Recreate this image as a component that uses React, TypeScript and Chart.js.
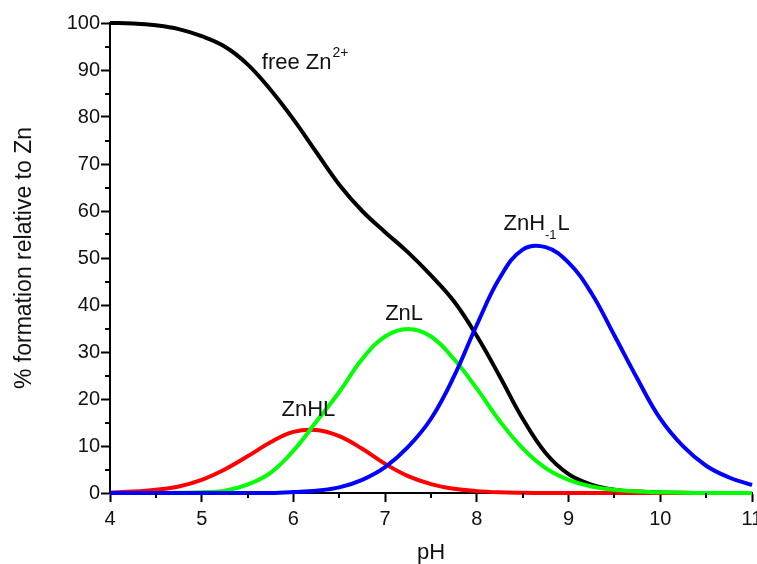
import React, { useEffect, useRef } from 'react';
import { Chart, registerables } from 'chart.js';

Chart.register(...registerables);

const FONT = '"Liberation Sans", Arial, Helvetica, sans-serif';

// pH grid
const phValues = [
  4, 4.25, 4.5, 4.75, 5, 5.25, 5.5, 5.75, 6, 6.25, 6.5, 6.75, 7, 7.25, 7.5,
  7.75, 8, 8.25, 8.5, 8.75, 9, 9.25, 9.5, 9.75, 10, 10.25, 10.5, 10.75, 11,
];

// free Zn2+ (black)
const freeZn = [
  100, 99.9, 99.5, 98.7, 97.2, 95, 91.2, 85.8, 79.5, 72.5, 65.6, 60.0, 55.5, 51.2, 46.3,
  40.8, 33.4, 24.8, 15.8, 8.5, 4.0, 1.8, 0.7, 0.3, 0.1, 0.05, 0, 0, 0,
];

// ZnHL (red)
const znHL = [
  0.1, 0.3, 0.7, 1.4, 2.8, 5.0, 7.8, 10.8, 13.0, 13.4, 12.1, 9.4, 6.2, 3.6, 1.9,
  0.9, 0.4, 0.15, 0.05, 0, 0, 0, 0, 0, 0, 0, 0, 0, 0,
];

// ZnL (green)
const znL = [
  0, 0, 0, 0.05, 0.15, 0.5, 1.8, 4.3, 9.0, 15.2, 21.5, 28.5, 33.3, 34.9, 33.3,
  28.5, 22.2, 15.3, 9.5, 5.3, 2.8, 1.4, 0.7, 0.3, 0.15, 0.05, 0, 0, 0,
];

// ZnH-1L (blue)
const znHm1L = [
  0, 0, 0, 0, 0, 0, 0, 0, 0.2, 0.5, 1.2, 2.8, 5.5, 9.8, 15.8,
  24.8, 35.8, 45.8, 51.8, 52.3, 49.0, 42.5, 33.5, 24.3, 15.8, 9.9, 5.8, 3.3, 1.7,
];

const xMinorTicks = [4.5, 5.5, 6.5, 7.5, 8.5, 9.5, 10.5];
const yMinorTicks = [5, 15, 25, 35, 45, 55, 65, 75, 85, 95];

// curve labels, anchored in data coordinates (pH, %)
const curveLabels = [
  { x: 5.655, y: 90.2, main: 'free Zn', script: '2+', kind: 'sup', tail: '' },
  { x: 8.29, y: 56.0, main: 'ZnH', script: '-1', kind: 'sub', tail: 'L' },
  { x: 7.0, y: 36.85, main: 'ZnL', script: '', kind: '', tail: '' },
  { x: 5.87, y: 16.4, main: 'ZnHL', script: '', kind: '', tail: '' },
];

const toPoints = (ys: number[]) => phValues.map((x, i) => ({ x, y: ys[i] }));

const extrasPlugin = {
  id: 'extras',
  afterDraw(chart: any) {
    const { ctx, chartArea } = chart;
    const xs = chart.scales.x;
    const ys = chart.scales.y;
    ctx.save();
    ctx.strokeStyle = '#000';
    ctx.lineWidth = 2;
    ctx.beginPath();
    for (const v of xMinorTicks) {
      const px = Math.round(xs.getPixelForValue(v));
      ctx.moveTo(px, chartArea.bottom);
      ctx.lineTo(px, chartArea.bottom + 5);
    }
    for (const v of yMinorTicks) {
      const py = Math.round(ys.getPixelForValue(v));
      ctx.moveTo(chartArea.left, py);
      ctx.lineTo(chartArea.left - 5, py);
    }
    ctx.stroke();

    ctx.fillStyle = '#111';
    ctx.textBaseline = 'alphabetic';
    ctx.textAlign = 'left';
    for (const lab of curveLabels) {
      const px = xs.getPixelForValue(lab.x);
      const py = ys.getPixelForValue(lab.y);
      ctx.font = `22px ${FONT}`;
      ctx.fillText(lab.main, px, py);
      let cx = px + ctx.measureText(lab.main).width;
      if (lab.script) {
        if (lab.kind === 'sup') {
          ctx.font = `14px ${FONT}`;
          ctx.fillText(lab.script, cx + 1, py - 12.5);
          cx += 1 + ctx.measureText(lab.script).width;
        } else {
          ctx.font = `13px ${FONT}`;
          ctx.fillText(lab.script, cx, py + 9);
          cx += ctx.measureText(lab.script).width;
        }
      }
      if (lab.tail) {
        ctx.font = `22px ${FONT}`;
        ctx.fillText(lab.tail, cx + 1, py);
      }
    }
    ctx.restore();
  },
};

export default function App() {
  const canvasRef = useRef<HTMLCanvasElement | null>(null);

  useEffect(() => {
    if (!canvasRef.current) return;
    const chart = new Chart(canvasRef.current, {
      type: 'line',
      data: {
        datasets: [
          { label: 'free Zn2+', data: toPoints(freeZn), borderColor: '#000000', order: 3 },
          { label: 'ZnHL', data: toPoints(znHL), borderColor: '#ff0000', order: 2 },
          { label: 'ZnL', data: toPoints(znL), borderColor: '#00ff00', order: 1 },
          { label: 'ZnH-1L', data: toPoints(znHm1L), borderColor: '#0000ff', order: 0 },
        ],
      },
      options: {
        animation: false,
        responsive: false,
        layout: { padding: { top: 23, right: 5, left: 0, bottom: 0 } },
        plugins: { legend: { display: false }, tooltip: { enabled: false } },
        elements: {
          point: { radius: 0 },
          line: { borderWidth: 4, tension: 0.4, fill: false, capBezierPoints: true },
        },
        datasets: { line: { clip: false } as any },
        scales: {
          x: {
            type: 'linear',
            min: 4,
            max: 11,
            ticks: {
              stepSize: 1,
              font: { size: 20, family: FONT },
              color: '#111',
              padding: 5,
              maxRotation: 0,
              autoSkip: false,
            },
            grid: { drawOnChartArea: false, tickLength: 9, tickWidth: 2, tickColor: '#000' },
            border: { display: true, color: '#000', width: 2 },
            title: {
              display: true,
              text: 'pH',
              font: { size: 22, family: FONT, lineHeight: 1 },
              color: '#111',
              padding: 0,
            },
            afterFit(s: any) {
              s.height = 71;
              s.paddingLeft = 0;
              s.paddingRight = 0;
            },
          },
          y: {
            type: 'linear',
            min: 0,
            max: 100,
            ticks: {
              stepSize: 10,
              font: { size: 20, family: FONT },
              color: '#111',
              padding: 1,
            },
            grid: { drawOnChartArea: false, tickLength: 9, tickWidth: 2, tickColor: '#000' },
            border: { display: true, color: '#000', width: 2 },
            title: {
              display: true,
              text: '% formation relative to Zn',
              font: { size: 23, family: FONT, lineHeight: 1 },
              color: '#111',
              padding: { top: 13, bottom: 0 },
            },
            afterFit(s: any) {
              s.width = 110;
              s.paddingTop = 0;
              s.paddingBottom = 0;
            },
          },
        },
      },
      plugins: [extrasPlugin],
    } as any);
    return () => chart.destroy();
  }, []);

  return (
    <canvas
      ref={canvasRef}
      width={757}
      height={564}
      style={{ position: 'absolute', left: 0, top: 0, display: 'block', background: '#fff' }}
    />
  );
}
